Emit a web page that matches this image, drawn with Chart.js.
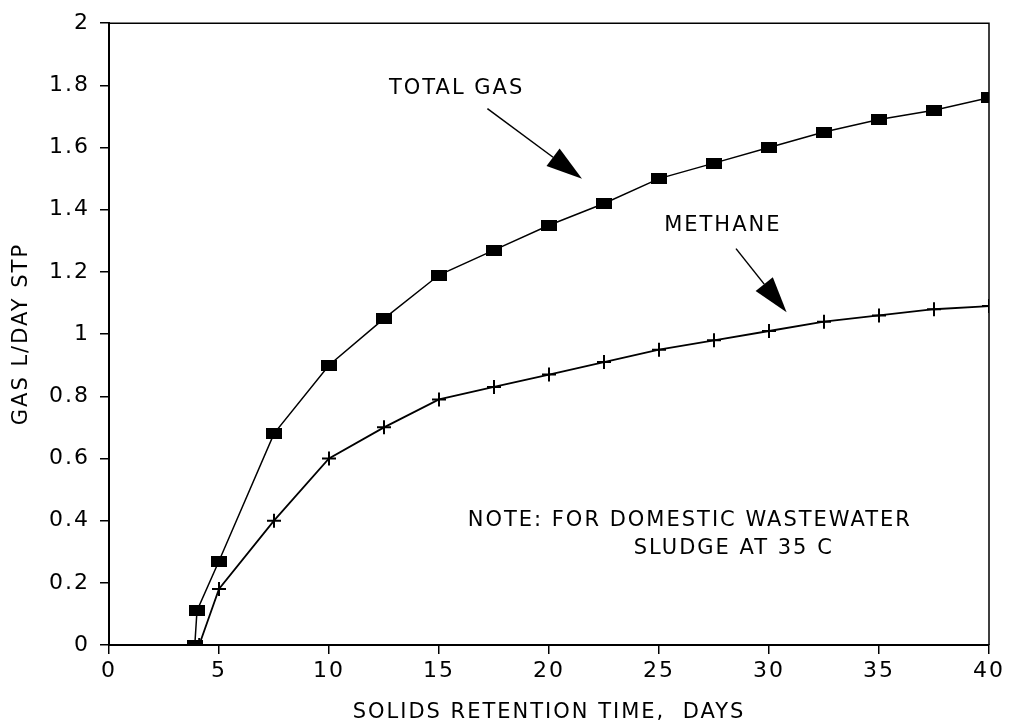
<!DOCTYPE html>
<html>
<head>
<meta charset="utf-8">
<script src="https://cdn.jsdelivr.net/npm/chart.js@4"></script>
<style>
  html, body { margin: 0; padding: 0; background: #fff; }
  #wrap { width: 1010px; height: 728px; }
</style>
</head>
<body>
<div id="wrap"><canvas id="gasChart" width="1010" height="728"></canvas></div>
<script>
// solids retention time (days)
const srtTotal = [3.9, 4, 5, 7.5, 10, 12.5, 15, 17.5, 20, 22.5, 25, 27.5, 30, 32.5, 35, 37.5, 40];
const totalGas = [0, 0.11, 0.27, 0.68, 0.9, 1.05, 1.19, 1.27, 1.35, 1.42, 1.5, 1.55, 1.6, 1.65, 1.69, 1.72, 1.76];
const srtMethane = [4.1, 5, 7.5, 10, 12.5, 15, 17.5, 20, 22.5, 25, 27.5, 30, 32.5, 35, 37.5, 40];
const methane = [0, 0.18, 0.4, 0.6, 0.7, 0.79, 0.83, 0.87, 0.91, 0.95, 0.98, 1.01, 1.04, 1.06, 1.08, 1.09];

const xTicks = [0, 5, 10, 15, 20, 25, 30, 35, 40];
const yTicks = [0, 0.2, 0.4, 0.6, 0.8, 1, 1.2, 1.4, 1.6, 1.8, 2];

const FONT = '"DejaVu Sans", sans-serif';

// filled black rectangle used as the total gas marker
const rectMark = document.createElement('canvas');
rectMark.width = 16; rectMark.height = 11;
(function () {
  const c = rectMark.getContext('2d');
  c.fillStyle = '#000';
  c.fillRect(0, 0, 16, 11);
})();

const toXY = (xs, ys) => xs.map((x, i) => ({ x: x, y: ys[i] }));

// labels and arrows drawn on the plot, placed in data units
const notes = [
  { text: 'TOTAL GAS', x: 15.8, y: 1.79 },
  { text: 'METHANE', x: 27.9, y: 1.35 },
  { text: 'NOTE: FOR DOMESTIC WASTEWATER', x: 26.4, y: 0.40 },
  { text: 'SLUDGE AT 35 C', x: 28.4, y: 0.31 }
];
const arrows = [
  { x0: 17.2, y0: 1.725, x1: 21.5, y1: 1.5 },
  { x0: 28.5, y0: 1.275, x1: 30.8, y1: 1.07 }
];

// the plotter lettering is wide, so open the spacing a little
const spacing = {
  id: 'spacing',
  beforeLayout(chart) { chart.ctx.letterSpacing = '2px'; },
  beforeDraw(chart) { chart.ctx.letterSpacing = '2px'; }
};

const annotate = {
  id: 'annotate',
  afterDraw(chart) {
    const ctx = chart.ctx, xs = chart.scales.x, ys = chart.scales.y;
    const a = chart.chartArea;
    ctx.save();
    // frame
    ctx.strokeStyle = '#000';
    ctx.lineWidth = 1.5;
    ctx.beginPath();
    ctx.moveTo(a.left, a.top);
    ctx.lineTo(a.right, a.top);
    ctx.lineTo(a.right, a.bottom);
    ctx.stroke();

    ctx.fillStyle = '#000';
    ctx.font = '21px ' + FONT;
    ctx.letterSpacing = '2px';
    ctx.textAlign = 'center';
    ctx.textBaseline = 'middle';
    notes.forEach(n => ctx.fillText(n.text, xs.getPixelForValue(n.x), ys.getPixelForValue(n.y)));

    arrows.forEach(r => {
      const px0 = xs.getPixelForValue(r.x0), py0 = ys.getPixelForValue(r.y0);
      const px1 = xs.getPixelForValue(r.x1), py1 = ys.getPixelForValue(r.y1);
      const ang = Math.atan2(py1 - py0, px1 - px0);
      const len = 36, half = 11;
      const bx = px1 - len * Math.cos(ang), by = py1 - len * Math.sin(ang);
      ctx.lineWidth = 1.5;
      ctx.beginPath();
      ctx.moveTo(px0, py0);
      ctx.lineTo(bx, by);
      ctx.stroke();
      ctx.beginPath();
      ctx.moveTo(px1, py1);
      ctx.lineTo(bx + half * Math.sin(ang), by - half * Math.cos(ang));
      ctx.lineTo(bx - half * Math.sin(ang), by + half * Math.cos(ang));
      ctx.closePath();
      ctx.fill();
    });
    ctx.restore();
  }
};

new Chart(document.getElementById('gasChart'), {
  type: 'line',
  data: {
    datasets: [
      {
        label: 'TOTAL GAS',
        data: toXY(srtTotal, totalGas),
        borderColor: '#000',
        borderWidth: 1.5,
        pointStyle: rectMark,
        tension: 0
      },
      {
        label: 'METHANE',
        data: toXY(srtMethane, methane),
        borderColor: '#000',
        borderWidth: 1.8,
        pointStyle: 'cross',
        pointRadius: 7,
        pointBorderWidth: 2,
        pointBorderColor: '#000',
        tension: 0
      }
    ]
  },
  options: {
    responsive: false,
    animation: false,
    events: [],
    layout: { padding: { top: 21, right: 21, left: 0, bottom: 0 } },
    plugins: {
      legend: { display: false },
      tooltip: { enabled: false }
    },
    scales: {
      x: {
        type: 'linear',
        min: 0, max: 40,
        afterBuildTicks: s => { s.ticks = xTicks.map(v => ({ value: v })); },
        afterFit: s => { s.height = 83; },
        grid: { display: true, drawOnChartArea: false, drawTicks: true, tickLength: 9, color: '#000', lineWidth: 1.5 },
        border: { display: true, color: '#000', width: 2 },
        ticks: { color: '#000', font: { family: FONT, size: 22 }, padding: 4, maxRotation: 0 },
        title: { display: true, text: 'SOLIDS RETENTION TIME,  DAYS', color: '#000', font: { family: FONT, size: 21 }, padding: { top: 0, bottom: 3 } }
      },
      y: {
        min: 0, max: 2,
        afterBuildTicks: s => { s.ticks = yTicks.map(v => ({ value: v })); },
        afterFit: s => { s.width = 109; },
        grid: { display: true, drawOnChartArea: false, drawTicks: true, tickLength: 9, color: '#000', lineWidth: 1.5 },
        border: { display: true, color: '#000', width: 2 },
        ticks: { color: '#000', font: { family: FONT, size: 22 }, padding: 10, callback: v => String(Math.round(v * 10) / 10) },
        title: { display: true, text: 'GAS L/DAY STP', color: '#000', font: { family: FONT, size: 21 }, padding: { top: 9, bottom: 4 } }
      }
    }
  },
  plugins: [spacing, annotate]
});
</script>
</body>
</html>
